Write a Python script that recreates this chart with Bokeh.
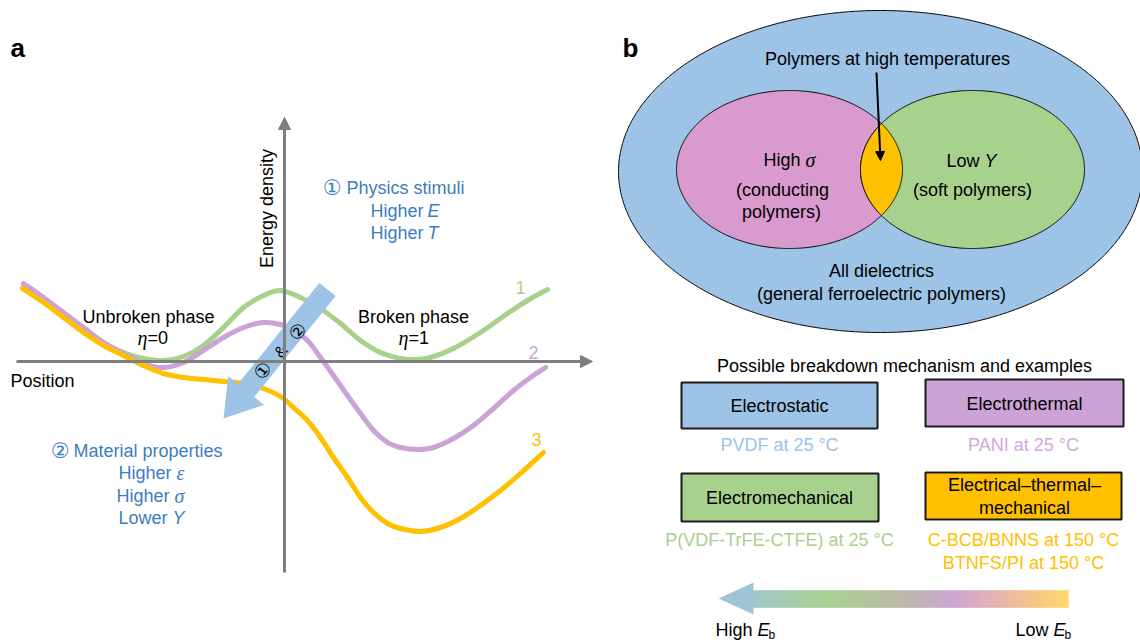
import numpy as np
from bokeh.plotting import figure
from bokeh.models import Range1d, Arrow, NormalHead
from bokeh.core.properties import value
from bokeh.embed import file_html
from bokeh.resources import INLINE

# ---------------- panel a: energy-density landscapes (page units, y downward)
curve1_pos = [23, 43, 63, 83, 103, 123, 143, 163, 183, 203, 223, 243, 263, 280,
              300, 320, 340, 360, 380, 400, 413, 430, 453, 480, 507, 527, 547]
curve1_energy = [285, 298, 313, 328, 342, 352, 358, 360, 356, 345, 327, 307, 295, 290,
                 297, 308, 323, 340, 352, 358, 359, 357, 348, 332, 313, 300, 289]

curve2_pos = [23, 43, 63, 83, 103, 123, 143, 163, 183, 203, 223, 243, 263, 280, 293, 307,
              320, 333, 347, 360, 373, 387, 400, 417, 433, 453, 473, 493, 513, 530, 545]
curve2_energy = [283, 297, 312, 327, 342, 353, 363, 367, 362, 350, 337, 327, 322, 324, 330, 340,
                 357, 375, 395, 413, 430, 442, 447, 449, 447, 438, 425, 408, 390, 377, 367]

curve3_pos = [22, 43, 63, 83, 103, 123, 143, 163, 183, 203, 223, 243, 263, 280, 293,
              307, 320, 333, 347, 360, 373, 387, 400, 420, 440, 460, 480, 500, 520, 543]
curve3_energy = [288, 302, 317, 332, 345, 355, 365, 373, 377, 379, 381, 383, 388, 396, 407,
                 420, 437, 457, 477, 497, 512, 523, 528, 531, 527, 518, 505, 490, 473, 452]

curve_names = ["1", "2", "3"]

# ---------------- panel b: mechanisms and examples
mechanisms = ["Electrostatic", "Electrothermal", "Electromechanical",
              "Electrical\u2013thermal\u2013\nmechanical"]
examples = ["PVDF at 25 \u00b0C", "PANI at 25 \u00b0C", "P(VDF-TrFE-CTFE) at 25 \u00b0C",
            "C-BCB/BNNS at 150 \u00b0C\nBTNFS/PI at 150 \u00b0C"]

# colours
GREEN = "#A9D18E"
PURPLE = "#CBA3D6"
YELLOW = "#FFC000"
BLUE = "#9DC3E6"
PINK = "#D99ACE"
TXT_BLUE = "#3C7DC0"
AXIS = "#7F7F7F"
SANS = "Liberation Sans"
SERIF = "Liberation Serif"

p = figure(width=1140, height=641, x_range=Range1d(0, 1140), y_range=Range1d(641, 0),
           output_backend="svg", toolbar_location=None, min_border=0,
           x_axis_location=None, y_axis_location=None)
p.grid.visible = False
p.outline_line_color = None
p.background_fill_color = "white"
p.border_fill_color = "white"


def label(x, y, s, size=18, color="black", align="center", baseline="middle",
          style="normal", font=SANS, angle=0):
    p.text(x=[x], y=[y], text=[s], text_font=value(font), text_font_size=f"{size}px",
           text_color=color, text_align=align, text_baseline=baseline,
           text_font_style=style, angle=angle, angle_units="deg")


def smooth_curve(xs, ys, color, width):
    """Draw a smooth curve through the given points as Catmull-Rom bezier segments."""
    x = np.asarray(xs, dtype=float)
    y = np.asarray(ys, dtype=float)
    xp = np.concatenate([[x[0]], x, [x[-1]]])
    yp = np.concatenate([[y[0]], y, [y[-1]]])
    n = len(x) - 1
    x0, y0 = x[:-1], y[:-1]
    x1, y1 = x[1:], y[1:]
    cx0 = x0 + (xp[2:n + 2] - xp[0:n]) / 6
    cy0 = y0 + (yp[2:n + 2] - yp[0:n]) / 6
    cx1 = x1 - (xp[3:n + 3] - xp[1:n + 1]) / 6
    cy1 = y1 - (yp[3:n + 3] - yp[1:n + 1]) / 6
    p.bezier(x0=x0, y0=y0, x1=x1, y1=y1, cx0=cx0, cy0=cy0, cx1=cx1, cy1=cy1,
             line_color=color, line_width=width, line_cap="round")


# ---------------- panel a
label(10, 47, "a", size=26, style="bold", align="left")

# axes
p.add_layout(Arrow(end=NormalHead(size=12, fill_color=AXIS, line_color=AXIS),
                   x_start=16, y_start=361, x_end=592, y_end=361,
                   line_color=AXIS, line_width=3))
p.add_layout(Arrow(end=NormalHead(size=12, fill_color=AXIS, line_color=AXIS),
                   x_start=284, y_start=572, x_end=284, y_end=117,
                   line_color=AXIS, line_width=3))

# landscapes
smooth_curve(curve1_pos, curve1_energy, GREEN, 5)
smooth_curve(curve2_pos, curve2_energy, PURPLE, 5)
smooth_curve(curve3_pos, curve3_energy, YELLOW, 5)

# stimulus arrow
tail = np.array([327.0, 289.0])
tip = np.array([223.0, 418.0])
u = (tip - tail) / np.hypot(*(tip - tail))
nrm = np.array([-u[1], u[0]])
base = tip - 36 * u
pts = [tail + 10.5 * nrm, base + 10.5 * nrm, base + 23 * nrm, tip,
       base - 23 * nrm, base - 10.5 * nrm, tail - 10.5 * nrm]
p.patch([q[0] for q in pts], [q[1] for q in pts], fill_color=BLUE, line_color=None)
ang = np.degrees(np.arctan2(tip[1] - tail[1], tail[0] - tip[0]))
label(262, 370, "\u2460", size=19, font="DejaVu Sans", angle=ang)
label(280, 351, "&", size=16, angle=ang)
label(297, 331, "\u2461", size=19, font="DejaVu Sans", angle=ang)

# texts
label(266, 208, "Energy density", angle=90)
label(10, 380, "Position", align="left")
label(148, 316, "Unbroken phase")
label(147, 337, "\u03b7", size=20, font=SERIF, style="italic", align="right")
label(147, 337, "=0", align="left")
label(413, 316, "Broken phase")
label(408, 337, "\u03b7", size=20, font=SERIF, style="italic", align="right")
label(408, 337, "=1", align="left")
label(520, 287, curve_names[0], color=GREEN)
label(533, 352, curve_names[1], color=PURPLE)
label(536, 439, curve_names[2], color=YELLOW)

label(332, 187, "\u2460", size=21, font="DejaVu Sans", color=TXT_BLUE)
label(346, 187, "Physics stimuli", color=TXT_BLUE, align="left")
label(423, 210, "Higher", color=TXT_BLUE, align="right")
label(427, 210, "E", color=TXT_BLUE, align="left", style="italic")
label(423, 232, "Higher", color=TXT_BLUE, align="right")
label(427, 232, "T", color=TXT_BLUE, align="left", style="italic")

label(60, 450, "\u2461", size=21, font="DejaVu Sans", color=TXT_BLUE)
label(73, 450, "Material properties", color=TXT_BLUE, align="left")
label(171, 472, "Higher", color=TXT_BLUE, align="right")
label(176, 472, "\u03b5", size=20, font=SERIF, style="italic", color=TXT_BLUE, align="left")
label(169, 495, "Higher", color=TXT_BLUE, align="right")
label(174, 495, "\u03c3", size=20, font=SERIF, style="italic", color=TXT_BLUE, align="left")
label(167, 517, "Lower", color=TXT_BLUE, align="right")
label(172, 517, "Y", color=TXT_BLUE, align="left", style="italic")

# ---------------- panel b: Venn diagram
def ellipse_pts(cx, cy, a, b, t):
    return cx + a * np.cos(t), cy + b * np.sin(t)


big = (880, 171, 262, 161)
left_e = (789, 169, 113, 79)
right_e = (972, 169, 112, 79)

t = np.linspace(0, 2 * np.pi, 721)
bx, by = ellipse_pts(*big, t)
p.patch(bx, by, fill_color=BLUE, line_color="black", line_width=1)
lx, ly = ellipse_pts(*left_e, t)
p.patch(lx, ly, fill_color=PINK, line_color="black", line_width=1)
rx, ry = ellipse_pts(*right_e, t)
p.patch(rx, ry, fill_color=GREEN, line_color="black", line_width=1)

# overlap lens
ta = np.linspace(-np.pi, np.pi, 1441)
ax_, ay_ = ellipse_pts(*left_e, ta)
m1 = ((ax_ - right_e[0]) / right_e[2]) ** 2 + ((ay_ - right_e[1]) / right_e[3]) ** 2 <= 1
tb = np.linspace(0, 2 * np.pi, 1441)
bx_, by_ = ellipse_pts(*right_e, tb)
m2 = ((bx_ - left_e[0]) / left_e[2]) ** 2 + ((by_ - left_e[1]) / left_e[3]) ** 2 <= 1
p.patch(np.concatenate([ax_[m1], bx_[m2]]), np.concatenate([ay_[m1], by_[m2]]),
        fill_color=YELLOW, line_color="black", line_width=1)

label(622, 47, "b", size=26, style="bold", align="left")
label(887, 58, "Polymers at high temperatures")
p.add_layout(Arrow(end=NormalHead(size=9, fill_color="black", line_color="black"),
                   x_start=876, y_start=72, x_end=880, y_end=160,
                   line_color="black", line_width=2))
label(800, 159, "High", align="right")
label(805, 159, "\u03c3", size=20, font=SERIF, style="italic", align="left")
label(782, 189, "(conducting")
label(781, 211, "polymers)")
label(979, 160, "Low", align="right")
label(984, 160, "Y", style="italic", align="left")
label(972, 189, "(soft polymers)")
label(881, 270, "All dielectrics")
label(881, 293, "(general ferroelectric polymers)")

# ---------------- panel b: mechanisms
label(904, 365, "Possible breakdown mechanism and examples")
box_left = [681, 925, 681, 925]
box_right = [877, 1123, 878, 1121]
box_top = [382, 379, 473, 472]
box_bottom = [428, 426, 521, 519]
box_fill = [BLUE, PURPLE, GREEN, YELLOW]
p.quad(left=box_left, right=box_right, top=box_top, bottom=box_bottom,
       fill_color=box_fill, line_color="#1a1a1a", line_width=2)

label(779, 405, mechanisms[0])
label(1024, 403, mechanisms[1])
label(779, 497, mechanisms[2])
l1, l2 = mechanisms[3].split("\n")
label(1024, 484, l1)
label(1024, 507, l2)

label(779, 444, examples[0], color=BLUE)
label(1023, 444, examples[1], color="#D2A7DC")
label(779, 539, examples[2], color=GREEN)
e1, e2 = examples[3].split("\n")
label(1023, 539, e1, color=YELLOW)
label(1023, 562, e2, color=YELLOW)

# gradient arrow: strength scale
stop_x = [718, 830, 905, 953, 995, 1030, 1068]
stop_c = ["#9CC3E3", "#A9D18E", "#BBB8A8", "#CBA3D6", "#E6B2B0", "#F2C38A", "#FFD966"]
stop_rgb = np.array([[int(c[i:i + 2], 16) for i in (1, 3, 5)] for c in stop_c], dtype=float)


def grad_color(x):
    rgb = [np.interp(x, stop_x, stop_rgb[:, k]) for k in range(3)]
    return "#%02x%02x%02x" % tuple(int(round(v)) for v in rgb)


xs = np.arange(752, 1068, 2.0)
cols = [grad_color(x + 1) for x in xs]
p.quad(left=xs, right=np.minimum(xs + 2.4, 1068), top=590, bottom=607,
       fill_color=cols, line_color=cols, line_width=0.4)
hx = [718, 753, 753]
hy = [598, 582, 614]
p.patch(hx, hy, fill_color=grad_color(735), line_color=None)

label(752, 629, "High", align="right")
label(757, 629, "E", style="italic", align="left")
label(768, 634, "b", size=12, align="left")
label(1048, 629, "Low", align="right")
label(1053, 629, "E", style="italic", align="left")
label(1064, 634, "b", size=12, align="left")

open("out.html", "w").write(file_html(p, INLINE))
